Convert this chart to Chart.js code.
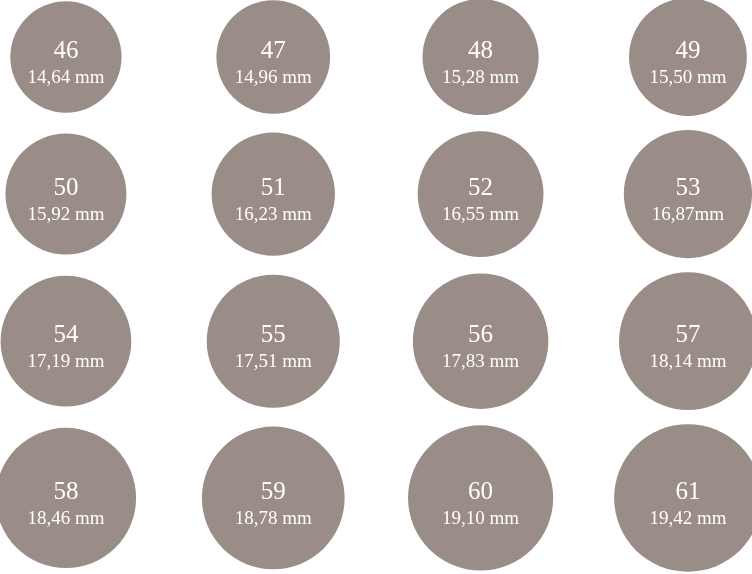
<!DOCTYPE html>
<html>
<head>
<meta charset="utf-8">
<script src="https://cdn.jsdelivr.net/npm/chart.js@4/dist/chart.umd.min.js"></script>
<style>
  html, body { margin: 0; padding: 0; background: #fff; }
  #wrap { width: 752px; height: 574px; }
</style>
</head>
<body>
<div id="wrap"><canvas id="rings"></canvas></div>
<script>
// ring sizes and inner diameters (as printed)
const sizes = [46, 47, 48, 49, 50, 51, 52, 53, 54, 55, 56, 57, 58, 59, 60, 61];
const mmLabels = [
  '14,64 mm', '14,96 mm', '15,28 mm', '15,50 mm',
  '15,92 mm', '16,23 mm', '16,55 mm', '16,87mm',
  '17,19 mm', '17,51 mm', '17,83 mm', '18,14 mm',
  '18,46 mm', '18,78 mm', '19,10 mm', '19,42 mm',
];

const COLS = 4;
const PX_PER_MM = 7.6;   // diameter scale on screen
const ROW_GAP = 1.85;    // mm between the largest circles of two rows
const FILL = '#9a8c86';

const diam = mmLabels.map(s => parseFloat(s.replace(',', '.')));

// rows stack by their biggest circle
const rowMax = [];
diam.forEach((d, i) => {
  const r = Math.floor(i / COLS);
  rowMax[r] = Math.max(rowMax[r] || 0, d);
});
const rowY = [0];
for (let r = 1; r < rowMax.length; r++) {
  rowY[r] = rowY[r - 1] + (rowMax[r - 1] + rowMax[r]) / 2 + ROW_GAP;
}

const points = sizes.map((s, i) => ({
  x: i % COLS,
  y: rowY[Math.floor(i / COLS)],
  r: diam[i] * PX_PER_MM / 2,
}));

// bubble controller without the auto padding, so the circles may touch the edges
class RingController extends Chart.BubbleController {
  getMaxOverflow() { return 0; }
}
RingController.id = 'rings';
RingController.defaults = Chart.BubbleController.defaults;
RingController.overrides = Chart.BubbleController.overrides;
Chart.register(RingController);

// ---------- labels inside each circle ----------
const ringLabels = {
  id: 'ringLabels',
  afterDatasetsDraw(chart) {
    const { ctx } = chart;
    const meta = chart.getDatasetMeta(0);
    ctx.save();
    ctx.fillStyle = '#ffffff';
    ctx.textAlign = 'center';
    ctx.textBaseline = 'middle';
    meta.data.forEach((el, i) => {
      ctx.font = '25px "Liberation Serif", serif';
      ctx.fillText(String(sizes[i]), el.x, el.y - 6);
      ctx.font = '19px "Liberation Serif", serif';
      ctx.fillText(mmLabels[i], el.x, el.y + 21);
    });
    ctx.restore();
  },
};

const topMm = -57 / PX_PER_MM;

new Chart(document.getElementById('rings'), {
  type: 'rings',
  data: {
    datasets: [{
      data: points,
      backgroundColor: FILL,
      borderWidth: 0,
      hoverRadius: 0,
      clip: false,
    }],
  },
  options: {
    responsive: true,
    maintainAspectRatio: false,
    animation: false,
    events: [],
    layout: { padding: 0 },
    scales: {
      x: { type: 'linear', display: false, min: -0.318, max: 3.309 },
      y: { type: 'linear', display: false, reverse: true, min: topMm, max: topMm + 574 / PX_PER_MM },
    },
    plugins: { legend: { display: false }, tooltip: { enabled: false } },
  },
  plugins: [ringLabels],
});
</script>
</body>
</html>
